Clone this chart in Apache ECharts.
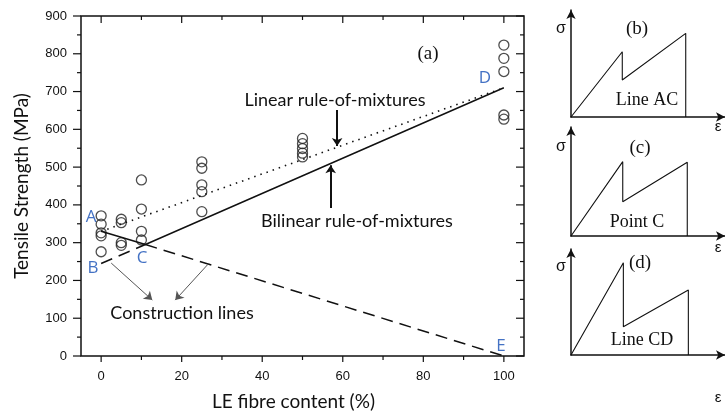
<!DOCTYPE html>
<html>
<head>
<meta charset="utf-8">
<script src="https://cdn.jsdelivr.net/npm/echarts@6/dist/echarts.min.js"></script>
<style>
  html, body { margin: 0; padding: 0; background: #fff; }
  #chart { width: 725px; height: 414px; }
</style>
</head>
<body>
<div id="chart"></div>
<script>
// 测试数据 (LE 纤维含量 %, 拉伸强度 MPa)
var strength0   = [371, 349, 326, 318, 276];
var strength5   = [362, 353, 300, 293];
var strength10  = [466, 389, 330, 307];
var strength25  = [514, 497, 453, 435, 382];
var strength50  = [576, 562, 549, 537, 527];
var strength100 = [823, 788, 753, 638, 627];
var contents    = [0, 5, 10, 25, 50, 100];

// 混合规则线
var linearRom     = [[0, 330], [100, 710]];
var bilinearRom   = [[0, 330], [11, 295], [100, 710]];
var constructBC   = [[0, 245], [11, 295]];
var constructCE   = [[11, 295], [100, 0]];

// 刻度
var majorTicksX = [0, 20, 40, 60, 80, 100];
var minorTicksX = [10, 30, 50, 70, 90];
var majorTicksY = [0, 100, 200, 300, 400, 500, 600, 700, 800, 900];
var minorTicksY = [50, 150, 250, 350, 450, 550, 650, 750, 850];

// 小图 应力-应变 (b)(c)(d)
var curveB = [[0, 0], [33.3, 61], [33.3, 34.6], [74.5, 78.2], [74.5, 0]];
var curveC = [[0, 0], [33.6, 68.2], [33.6, 31.5], [75.5, 67.6], [75.5, 0]];
var curveD = [[0, 0], [34, 87.1], [34, 26.7], [76.2, 61.3], [76.2, 0]];

var INK = '#111';
var BLUE = '#4472C4';

function toPoints(x, list) {
  var out = [];
  for (var i = 0; i < list.length; i++) {
    out.push([x, list[i]]);
  }
  return out;
}

function scatterData() {
  var groups = [strength0, strength5, strength10, strength25, strength50, strength100];
  var out = [];
  for (var i = 0; i < groups.length; i++) {
    out = out.concat(toPoints(contents[i], groups[i]));
  }
  return out;
}

/*
边框和刻度: [边, 值, 长度]
边 0 下(朝外) 1 上(朝内) 2 左(朝外) 3 右(朝内) 4 边框
*/
function frameData() {
  var out = [[4, 0, 0]];
  var i;
  for (i = 0; i < majorTicksX.length; i++) { out.push([0, majorTicksX[i], 6]); out.push([1, majorTicksX[i], 7]); }
  for (i = 0; i < minorTicksX.length; i++) { out.push([0, minorTicksX[i], 4]); out.push([1, minorTicksX[i], 4]); }
  for (i = 0; i < majorTicksY.length; i++) { out.push([2, majorTicksY[i], 8]); out.push([3, majorTicksY[i], 8]); }
  for (i = 0; i < minorTicksY.length; i++) { out.push([2, minorTicksY[i], 4]); out.push([3, minorTicksY[i], 4]); }
  return out;
}

function tickLine(x1, y1, x2, y2) {
  return { type: 'line', shape: { x1: x1, y1: y1, x2: x2, y2: y2 }, style: { stroke: INK, lineWidth: 1.2 } };
}

function renderFrame(params, api) {
  var cs = params.coordSys;
  var side = api.value(0), v = api.value(1), len = api.value(2);
  var bottom = cs.y + cs.height, right = cs.x + cs.width;
  if (side == 4) {
    return { type: 'rect', shape: { x: cs.x, y: cs.y, width: cs.width, height: cs.height }, style: { stroke: INK, lineWidth: 1.5, fill: 'none' } };
  }
  if (side == 0 || side == 1) {
    var px = api.coord([v, 0])[0];
    return side == 0 ? tickLine(px, bottom, px, bottom + len) : tickLine(px, cs.y, px, cs.y + len);
  }
  var py = api.coord([0, v])[1];
  return side == 2 ? tickLine(cs.x - len, py, cs.x, py) : tickLine(right - len, py, right, py);
}

function panelLine() {
  return { show: true, onZero: false, symbol: ['none', 'arrow'], symbolSize: [7, 9], lineStyle: { color: INK, width: 1.5 } };
}

function panelAxes(gi) {
  return {
    x: { type: 'value', gridIndex: gi, min: 0, max: 100, axisLine: panelLine(), axisTick: { show: false }, axisLabel: { show: false }, splitLine: { show: false } },
    y: { type: 'value', gridIndex: gi, min: 0, max: 100, axisLine: panelLine(), axisTick: { show: false }, axisLabel: { show: false }, splitLine: { show: false } }
  };
}

function label(text, x, y, font, color) {
  return {
    type: 'text', x: x, y: y,
    style: { text: text, font: font, fill: color || INK, align: 'center', verticalAlign: 'middle' }
  };
}

function arrow(from, to, color, width, curve) {
  return [
    { coord: from, lineStyle: { color: color, width: width, type: 'solid', curveness: curve } },
    { coord: to }
  ];
}

var myChart = echarts.init(document.getElementById('chart'));

var pb = panelAxes(1), pc = panelAxes(2), pd = panelAxes(3);

var option = {
  animation: false,
  grid: [
    { left: 81, right: 201, top: 16, bottom: 58, outerBoundsMode: 'none' },
    { left: 571, right: 0, top: 10, height: 107, outerBoundsMode: 'none' },
    { left: 571, right: 0, top: 127, height: 109, outerBoundsMode: 'none' },
    { left: 571, right: 0, top: 249, height: 106, outerBoundsMode: 'none' }
  ],
  xAxis: [
    {
      type: 'value', gridIndex: 0, min: -5, max: 105,
      name: 'LE fibre content (%)', nameLocation: 'middle', nameGap: 36,
      nameTextStyle: { fontFamily: 'Lato', fontSize: 19, color: INK, padding: [0, 18, 0, 0] },
      axisLine: { show: false, onZero: false },
      axisTick: { show: false },
      axisLabel: { show: true, customValues: majorTicksX, color: INK, fontFamily: 'Liberation Sans', fontSize: 13, margin: 14 },
      splitLine: { show: false }
    },
    pb.x, pc.x, pd.x
  ],
  yAxis: [
    {
      type: 'value', gridIndex: 0, min: 0, max: 900, interval: 100,
      name: 'Tensile Strength (MPa)', nameLocation: 'middle', nameGap: 50,
      nameTextStyle: { fontFamily: 'Lato', fontSize: 19, color: INK },
      axisLine: { show: false, onZero: false },
      axisTick: { show: false },
      axisLabel: { show: true, color: INK, fontFamily: 'Liberation Sans', fontSize: 13, margin: 14 },
      splitLine: { show: false }
    },
    pb.y, pc.y, pd.y
  ],
  series: [
    {
      // 主图边框和刻度
      type: 'custom', xAxisIndex: 0, yAxisIndex: 0, data: frameData(),
      renderItem: renderFrame, clip: false, silent: true, z: 10
    },
    {
      type: 'line', xAxisIndex: 0, yAxisIndex: 0, data: linearRom, showSymbol: false,
      lineStyle: { color: INK, width: 1.6, type: [1.5, 5] }
    },
    {
      type: 'line', xAxisIndex: 0, yAxisIndex: 0, data: bilinearRom, showSymbol: false,
      lineStyle: { color: INK, width: 1.5 }
    },
    {
      type: 'line', xAxisIndex: 0, yAxisIndex: 0, data: constructBC, showSymbol: false,
      lineStyle: { color: INK, width: 1.5, type: [12, 7] }
    },
    {
      type: 'line', xAxisIndex: 0, yAxisIndex: 0, data: constructCE, showSymbol: false,
      lineStyle: { color: INK, width: 1.5, type: [12, 7] },
      // 注释箭头
      markLine: {
        silent: true, symbol: ['none', 'arrow'], symbolSize: 8, label: { show: false },
        data: [
          arrow([58.6, 651], [58.6, 556], INK, 2, 0),
          arrow([57, 392], [57, 505], INK, 2, 0),
          arrow([2.5, 246], [12.7, 148], '#555', 1, -0.45),
          arrow([26.8, 246], [18.4, 148], '#555', 1, 0.45)
        ]
      }
    },
    {
      type: 'scatter', xAxisIndex: 0, yAxisIndex: 0, data: scatterData(),
      symbol: 'circle', symbolSize: 10,
      itemStyle: { color: 'transparent', borderColor: '#222', borderWidth: 1.3 }
    },
    { type: 'line', xAxisIndex: 1, yAxisIndex: 1, data: curveB, showSymbol: false, lineStyle: { color: INK, width: 1.1 } },
    { type: 'line', xAxisIndex: 2, yAxisIndex: 2, data: curveC, showSymbol: false, lineStyle: { color: INK, width: 1.1 } },
    { type: 'line', xAxisIndex: 3, yAxisIndex: 3, data: curveD, showSymbol: false, lineStyle: { color: INK, width: 1.1 } }
  ],
  graphic: {
    elements: [
      label('(a)', 428, 54, '19px "Liberation Serif"'),
      label('Linear rule-of-mixtures', 335, 100, '18px Lato'),
      label('Bilinear rule-of-mixtures', 357, 221, '18px Lato'),
      label('Construction lines', 182, 313, '18px Lato'),
      label('A', 91, 217, '17px "Open Sans"', BLUE),
      label('B', 93, 268, '17px "Open Sans"', BLUE),
      label('C', 142, 258, '17px "Open Sans"', BLUE),
      label('D', 485, 78, '17px "Open Sans"', BLUE),
      label('E', 501, 346, '17px "Open Sans"', BLUE),
      // 小图文字
      label('σ', 561, 29, '16px "Liberation Sans"'),
      label('(b)', 637, 29, '19px "Liberation Serif"'),
      label('Line AC', 647, 100, '18px "Liberation Serif"'),
      label('ε', 718, 127, '15px "Liberation Sans"'),
      label('σ', 561, 147, '16px "Liberation Sans"'),
      label('(c)', 640, 148, '19px "Liberation Serif"'),
      label('Point C', 637, 222, '18px "Liberation Serif"'),
      label('ε', 718, 248, '15px "Liberation Sans"'),
      label('σ', 561, 267, '16px "Liberation Sans"'),
      label('(d)', 640, 263, '19px "Liberation Serif"'),
      label('Line CD', 642, 340, '18px "Liberation Serif"'),
      label('ε', 718, 398, '15px "Liberation Sans"')
    ]
  }
};

myChart.setOption(option);
</script>
</body>
</html>
